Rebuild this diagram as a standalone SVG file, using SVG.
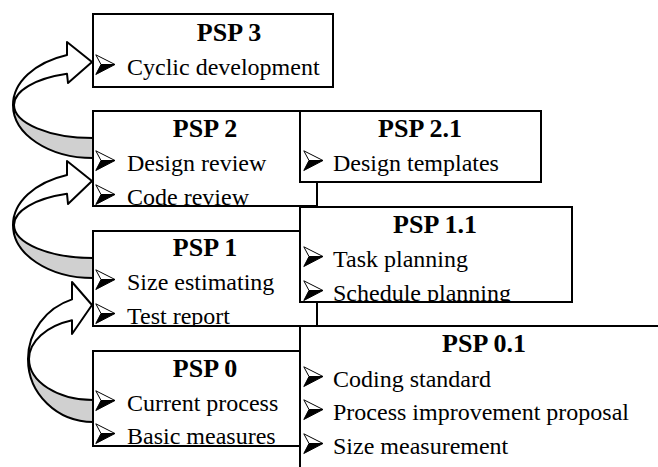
<svg xmlns="http://www.w3.org/2000/svg" xmlns:xlink="http://www.w3.org/1999/xlink" width="658" height="467" viewBox="0 0 658 467">
<style>
.box{fill:#fff;stroke:#000;stroke-width:2}
.ttl{font-family:"Liberation Serif","Times New Roman",serif;font-weight:bold;font-size:26px;fill:#000;text-anchor:middle}
.itm{font-family:"Liberation Serif","Times New Roman",serif;font-size:24px;fill:#000}
.front{fill:#fff;stroke:#000;stroke-width:2;stroke-linejoin:round}
.back{fill:#d0d0d0;stroke:#000;stroke-width:2;stroke-linejoin:round}
</style>
<defs>
<g id="blt">
<path d="M0.8,0.8 L20,10.5 L6,10.5 Z" fill="#fff" stroke="#000" stroke-width="1"/>
<path d="M6,10.5 L20,10.5 L0.8,20.5 Z" fill="#000" stroke="#000" stroke-width="1" stroke-linejoin="round"/>
</g>
<clipPath id="c3"><rect x="93" y="14" width="240" height="73"/></clipPath>
<clipPath id="c2"><rect x="93" y="111" width="224" height="95"/></clipPath>
<clipPath id="c1"><rect x="93" y="231" width="224" height="95"/></clipPath>
<clipPath id="c0"><rect x="93" y="351" width="224" height="95"/></clipPath>
<clipPath id="c21"><rect x="300" y="111" width="241" height="71"/></clipPath>
<clipPath id="c11"><rect x="300" y="207" width="272" height="95"/></clipPath>
<clipPath id="c01"><rect x="300" y="326" width="370" height="160"/></clipPath>
</defs>

<g id="connectors">
<g id="arrow-psp2-psp3">
<path class="back" d="M14,105 A79,33 0 0,0 93,138 L93,158 A80,53 0 0,1 13,105 Z"/>
<path class="front" d="M67,54.9 L67,42 L92,62 L68,83 L67,73.8 A79,33 0 0,0 14,105 L13,105 A80,53 0 0,1 67,54.9 Z"/>
</g>
<g id="arrow-psp1-psp2">
<path class="back" d="M14,225 A79,33 0 0,0 93,258 L93,278 A80,53 0 0,1 13,225 Z"/>
<path class="front" d="M67,174.9 L67,161 L92,181 L68,204 L67,193.8 A79,33 0 0,0 14,225 L13,225 A80,53 0 0,1 67,174.9 Z"/>
</g>
<g id="arrow-psp0-psp1">
<path class="back" d="M29,359 A64,41 0 0,0 93,400 L93,422 A65,63 0 0,1 28,359 Z"/>
<path class="front" d="M72,299.4 L72,282 L92,305 L72,334 L72,320.3 A64,41 0 0,0 29,359 L28,359 A65,63 0 0,1 72,299.4 Z"/>
</g>
</g>

<g id="psp3">
<rect class="box" x="93" y="14" width="240" height="73"/>
<g clip-path="url(#c3)">
<text class="ttl" x="229" y="41">PSP 3</text>
<use href="#blt" xlink:href="#blt" x="95" y="54"/>
<text class="itm" x="127" y="75">Cyclic development</text>
</g>
</g>

<g id="psp2">
<rect class="box" x="93" y="111" width="224" height="95"/>
<g clip-path="url(#c2)">
<text class="ttl" x="205" y="137">PSP 2</text>
<use href="#blt" xlink:href="#blt" x="95" y="150"/>
<text class="itm" x="127" y="171">Design review</text>
<use href="#blt" xlink:href="#blt" x="95" y="184"/>
<text class="itm" x="127" y="205">Code review</text>
</g>
</g>

<g id="psp1">
<rect class="box" x="93" y="231" width="224" height="95"/>
<g clip-path="url(#c1)">
<text class="ttl" x="205" y="256">PSP 1</text>
<use href="#blt" xlink:href="#blt" x="95" y="269"/>
<text class="itm" x="127" y="290">Size estimating</text>
<use href="#blt" xlink:href="#blt" x="95" y="303"/>
<text class="itm" x="127" y="324">Test report</text>
</g>
</g>

<g id="psp0">
<rect class="box" x="93" y="351" width="224" height="95"/>
<g clip-path="url(#c0)">
<text class="ttl" x="205" y="377">PSP 0</text>
<use href="#blt" xlink:href="#blt" x="95" y="390"/>
<text class="itm" x="127" y="411">Current process</text>
<use href="#blt" xlink:href="#blt" x="95" y="423"/>
<text class="itm" x="127" y="444">Basic measures</text>
</g>
</g>

<g id="psp21">
<rect class="box" x="300" y="111" width="241" height="71"/>
<g clip-path="url(#c21)">
<text class="ttl" x="420" y="137">PSP 2.1</text>
<use href="#blt" xlink:href="#blt" x="303" y="150"/>
<text class="itm" x="333" y="171">Design templates</text>
</g>
</g>

<g id="psp11">
<rect class="box" x="300" y="207" width="272" height="95"/>
<g clip-path="url(#c11)">
<text class="ttl" x="435" y="233">PSP 1.1</text>
<use href="#blt" xlink:href="#blt" x="303" y="246"/>
<text class="itm" x="333" y="267">Task planning</text>
<use href="#blt" xlink:href="#blt" x="303" y="280"/>
<text class="itm" x="333" y="301">Schedule planning</text>
</g>
</g>

<g id="psp01">
<rect class="box" x="300" y="326" width="370" height="160"/>
<g clip-path="url(#c01)">
<text class="ttl" x="484" y="352">PSP 0.1</text>
<use href="#blt" xlink:href="#blt" x="303" y="366"/>
<text class="itm" x="333" y="387">Coding standard</text>
<use href="#blt" xlink:href="#blt" x="303" y="399"/>
<text class="itm" x="333" y="420">Process improvement proposal</text>
<use href="#blt" xlink:href="#blt" x="303" y="433"/>
<text class="itm" x="333" y="454">Size measurement</text>
</g>
</g>
</svg>
